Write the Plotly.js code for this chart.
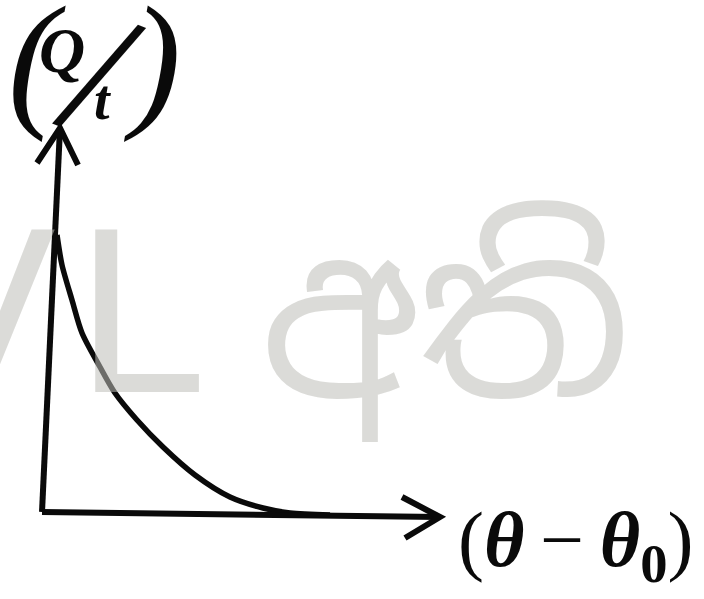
<!DOCTYPE html>
<html>
<head>
<meta charset="utf-8">
<script src="https://cdn.plot.ly/plotly-3.0.1.min.js"></script>
<style>
  html, body { margin: 0; padding: 0; background: #ffffff; }
  #chart { width: 704px; height: 599px; }
</style>
</head>
<body>
<div id="chart"></div>
<script>
// Rate of heat loss (Q/t) against temperature excess (θ − θ0)
const tempExcess = [0.375, 0.5, 0.75, 1.0, 1.45, 1.825, 2.375, 3.025, 3.825, 4.7, 5.525, 6.2, 7.2];
const heatRate   = [6.925, 6.175, 5.3, 4.475, 3.625, 2.975, 2.3, 1.625, 0.925, 0.375, 0.1, -0.025, -0.075];

// Axis label pieces
const xLabel = '(<b><i>θ</i></b>\u2009−\u2009<b><i>θ</i></b><sub><b>0</b></sub>)';
const yLabelParts = ['(', 'Q', '/', 't', ')'];

// Watermark letters
const markLatin = ['V', 'L'];
const markSinhala = 'අති';

const W = 704, H = 599;
const px = v => v / W;
const py = v => 1 - v / H;

// Hand-drawn axis geometry in data units
const origin = [0, 0];
const yTip = [0.45, 9.6];
const xTip = [9.95, -0.125];
const yBarbs = [[-0.125, 8.725], [0.9, 8.675]];
const xBarbs = [[9.0, 0.375], [9.075, -0.65]];

const P = p => p[0] + ',' + p[1];
const ink = { color: '#0a0a0a', width: 6 };

const shapes = [
  { type: 'path', xref: 'x', yref: 'y', line: ink,
    path: 'M' + P(origin) + ' L' + P(yTip) },
  { type: 'path', xref: 'x', yref: 'y', line: ink,
    path: 'M' + P(yBarbs[0]) + ' L' + P(yTip) + ' L' + P(yBarbs[1]) },
  { type: 'path', xref: 'x', yref: 'y', line: ink,
    path: 'M' + P(origin) + ' L' + P(xTip) },
  { type: 'path', xref: 'x', yref: 'y', line: ink,
    path: 'M' + P(xBarbs[0]) + ' L' + P(xTip) + ' L' + P(xBarbs[1]) }
];

const serif = 'Liberation Serif, Times New Roman, serif';
const wmColor = 'rgba(190,190,184,0.55)';
const wmSans = 'Liberation Sans, Arial, sans-serif';

function label(text, x, y, size, extra) {
  return Object.assign({
    text: text, xref: 'paper', yref: 'paper', x: px(x), y: py(y),
    xanchor: 'center', yanchor: 'middle', showarrow: false,
    font: { family: serif, size: size, color: '#0a0a0a' }
  }, extra || {});
}

const annotations = [
  // x-axis label
  label(xLabel, 456, 545, 78, { xanchor: 'left' }),
  // y-axis label, set glyph by glyph
  label('<i>' + yLabelParts[0] + '</i>', 37, 59, 150),
  label('<b><i>' + yLabelParts[1] + '</i></b>', 62, 50, 64),
  label(yLabelParts[2], 100, 74, 185, { textangle: 22 }),
  label('<b><i>' + yLabelParts[3] + '</i></b>', 102, 100, 56),
  label('<i>' + yLabelParts[4] + '</i>', 152, 59, 150),
  // watermark
  label(markLatin[0], -103, 310, 235, { xanchor: 'left', font: { family: wmSans, size: 235, color: wmColor } }),
  label(markLatin[1], 74, 310, 235, { xanchor: 'left', font: { family: wmSans, size: 235, color: wmColor } }),
  label(markSinhala, 445, 317, 224, { font: { family: 'Noto Sans Sinhala, Noto Sans, sans-serif', size: 224, color: wmColor } })
];

const curve = {
  type: 'scatter', mode: 'lines',
  x: tempExcess, y: heatRate,
  line: { color: '#0a0a0a', width: 5.5, shape: 'spline', smoothing: 0.8 },
  hoverinfo: 'skip', showlegend: false
};

const layout = {
  width: W, height: H,
  margin: { l: 0, r: 0, t: 0, b: 0 },
  paper_bgcolor: '#ffffff', plot_bgcolor: '#ffffff',
  xaxis: { range: [-42 / 40, (W - 42) / 40], visible: false, fixedrange: true },
  yaxis: { range: [(512 - H) / 40, 512 / 40], visible: false, fixedrange: true },
  shapes: shapes,
  annotations: annotations,
  showlegend: false
};

Plotly.newPlot('chart', [curve], layout, { staticPlot: true, displayModeBar: false });
</script>
</body>
</html>
